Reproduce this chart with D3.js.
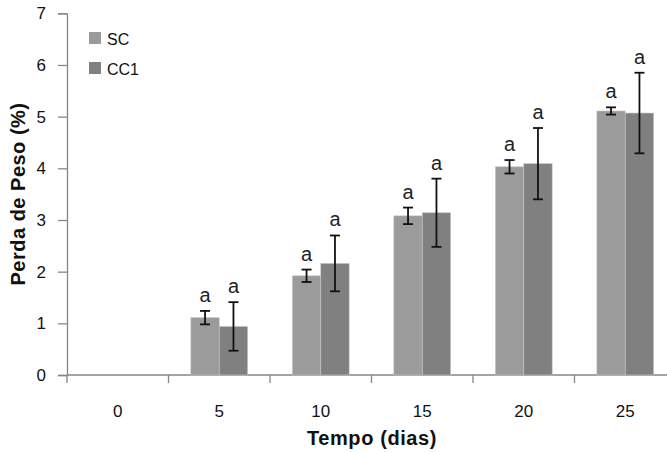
<!DOCTYPE html>
<html>
<head>
<meta charset="utf-8">
<script src="https://cdn.jsdelivr.net/npm/d3@7"></script>
<style>
  body { margin: 0; background: #fff; }
  text { font-family: "Liberation Sans", Arial, sans-serif; }
</style>
</head>
<body>
<svg id="chart"></svg>
<script>
// data
const days = ["0", "5", "10", "15", "20", "25"];
const series = ["SC", "CC1"];
const scValues = [null, 1.11, 1.92, 3.08, 4.03, 5.11];
const scErrors = [null, 0.13, 0.12, 0.16, 0.13, 0.07];
const cc1Values = [null, 0.94, 2.16, 3.14, 4.09, 5.07];
const cc1Errors = [null, 0.47, 0.54, 0.66, 0.69, 0.78];
const letters = [null, "a", "a", "a", "a", "a"];
const yTicks = [0, 1, 2, 3, 4, 5, 6, 7];

const colors = { SC: "#9b9b9b", CC1: "#808080" };
const axisColor = "#868686";

const W = 667, H = 452;
const plotLeft = 67, plotRight = 676, plotTop = 13.3, plotBottom = 375;

const svg = d3.select("#chart").attr("width", W).attr("height", H);

// rows for the bars
const rows = [];
days.forEach((d, i) => {
  if (scValues[i] != null) rows.push({ day: d, s: "SC", v: scValues[i], e: scErrors[i], l: letters[i] });
  if (cc1Values[i] != null) rows.push({ day: d, s: "CC1", v: cc1Values[i], e: cc1Errors[i], l: letters[i] });
});

const x0 = d3.scaleBand().domain(days).range([plotLeft, plotRight])
  .paddingInner(0.44).paddingOuter(0.22);
const x1 = d3.scaleBand().domain(series).range([0, x0.bandwidth()]);
const y = d3.scaleLinear().domain([0, 7]).range([plotBottom, plotTop]);

// y axis
const yAxis = svg.append("g")
  .attr("transform", `translate(${plotLeft},0)`)
  .call(d3.axisLeft(y).tickValues(yTicks).tickSize(9).tickPadding(12).tickFormat(d3.format("d")));
yAxis.select(".domain").attr("stroke", axisColor).attr("stroke-width", 1.3);
yAxis.selectAll(".tick line").attr("stroke", axisColor).attr("stroke-width", 1.3);
yAxis.selectAll(".tick text").attr("font-size", 17).attr("fill", "#111");

// x axis line and boundary ticks
const step = x0.step();
const bounds = d3.range(days.length + 1).map(i => plotLeft + i * step);
svg.append("line")
  .attr("x1", plotLeft).attr("x2", plotRight)
  .attr("y1", y(0)).attr("y2", y(0))
  .attr("stroke", axisColor).attr("stroke-width", 1.3);
svg.append("g").selectAll("line")
  .data(bounds)
  .join("line")
  .attr("x1", d => d).attr("x2", d => d)
  .attr("y1", y(0)).attr("y2", y(0) + 8)
  .attr("stroke", axisColor).attr("stroke-width", 1.3);

const xAxis = svg.append("g")
  .attr("transform", `translate(0,${y(0)})`)
  .call(d3.axisBottom(x0).tickSize(0).tickPadding(30));
xAxis.select(".domain").remove();
xAxis.selectAll(".tick text").attr("font-size", 17).attr("fill", "#111");

// bars
const bx = d => x0(d.day) + x1(d.s);
svg.append("g").selectAll("rect")
  .data(rows)
  .join("rect")
  .attr("x", bx)
  .attr("y", d => y(d.v))
  .attr("width", x1.bandwidth())
  .attr("height", d => y(0) - y(d.v))
  .attr("fill", d => colors[d.s])
  .attr("stroke", "#c8c8c8")
  .attr("stroke-width", 0.6);

// error bars
const eb = svg.append("g").attr("stroke", "#111").attr("stroke-width", 1.8);
rows.forEach(d => {
  const cx = bx(d) + x1.bandwidth() / 2;
  eb.append("line").attr("x1", cx).attr("x2", cx).attr("y1", y(d.v + d.e)).attr("y2", y(d.v - d.e));
  eb.append("line").attr("x1", cx - 5).attr("x2", cx + 5).attr("y1", y(d.v + d.e)).attr("y2", y(d.v + d.e));
  eb.append("line").attr("x1", cx - 5).attr("x2", cx + 5).attr("y1", y(d.v - d.e)).attr("y2", y(d.v - d.e));
});

// significance letters
svg.append("g").selectAll("text")
  .data(rows)
  .join("text")
  .attr("x", d => bx(d) + x1.bandwidth() / 2)
  .attr("y", d => y(d.v + d.e) - 9)
  .attr("text-anchor", "middle")
  .attr("font-size", 20)
  .attr("fill", "#222")
  .text(d => d.l);

// axis titles
svg.append("text")
  .attr("x", 372).attr("y", 445)
  .attr("text-anchor", "middle")
  .attr("font-size", 20).attr("font-weight", "bold")
  .attr("letter-spacing", 0.6)
  .attr("fill", "#111")
  .text("Tempo (dias)");

svg.append("text")
  .attr("transform", "translate(25,194) rotate(-90)")
  .attr("text-anchor", "middle")
  .attr("font-size", 20).attr("font-weight", "bold")
  .attr("letter-spacing", 0.5)
  .attr("fill", "#111")
  .text("Perda de Peso  (%)");

// legend
const legend = svg.append("g").attr("transform", "translate(89,32)");
series.forEach((s, i) => {
  const g = legend.append("g").attr("transform", `translate(0,${i * 30})`);
  g.append("rect").attr("width", 12).attr("height", 12).attr("fill", colors[s]);
  g.append("text").attr("x", 18).attr("y", 12.5).attr("font-size", 16).attr("fill", "#111").text(s);
});
</script>
</body>
</html>
